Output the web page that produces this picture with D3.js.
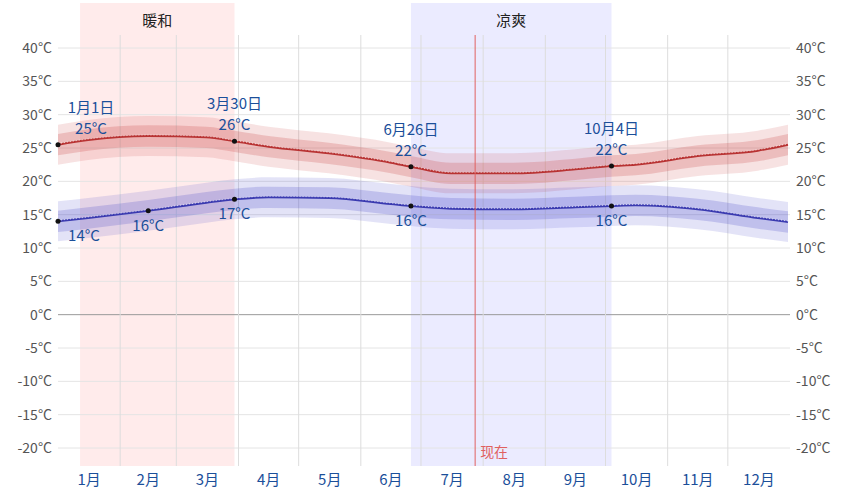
<!DOCTYPE html>
<html><head><meta charset="utf-8">
<script src="https://cdn.jsdelivr.net/npm/d3@7"></script>
<style>body{margin:0;background:#fff}text{font-family:"Noto Sans CJK SC","Noto Sans",sans-serif}</style>
</head><body><svg id="chart" width="858" height="500"></svg>
<script>
"use strict";
const days = [0, 15, 45, 74, 88, 105, 135, 166, 176, 196, 227, 258, 276, 288, 319, 349, 364];
const highs = [25.5, 26.2, 26.8, 26.6, 26, 25.2, 24.2, 22.8, 22.2, 21.2, 21.2, 21.8, 22.3, 22.5, 23.8, 24.6, 25.5];
const lows = [14, 14.5, 15.6, 16.8, 17.3, 17.6, 17.5, 16.6, 16.3, 15.9, 15.8, 16.1, 16.3, 16.4, 15.8, 14.5, 13.9];
const monthStarts = [0, 31, 59, 90, 120, 151, 181, 212, 243, 273, 304, 334, 365];
const monthLabels = ["1月","2月","3月","4月","5月","6月","7月","8月","9月","10月","11月","12月"];
const yTicks = [40,35,30,25,20,15,10,5,0,-5,-10,-15,-20];
const seasons = [{name:"暖和", from:11, to:88, color:"rgba(255,90,90,0.12)"},
                 {name:"凉爽", from:176, to:276, color:"rgba(90,90,255,0.12)"}];
const nowDay = 208;
const highNotes = [{d:0, date:"1月1日", t:"25°C"}, {d:88, date:"3月30日", t:"26°C"}, {d:176, date:"6月26日", t:"22°C"}, {d:276, date:"10月4日", t:"22°C"}];
const lowNotes = [{d:0, t:"14°C"}, {d:45, t:"16°C"}, {d:88, t:"17°C"}, {d:176, t:"16°C"}, {d:276, t:"16°C"}];

(function () {
const svg = d3.select("#chart");
const x = d3.scaleLinear().domain([0, 365]).range([58, 790]);
const y = d3.scaleLinear().domain([-20, 40]).range([448, 48]);
const bandTop = 3, bandBottom = 466;

seasons.forEach(s => {
  svg.append("rect").attr("x", x(s.from)).attr("y", bandTop).attr("width", x(s.to) - x(s.from))
    .attr("height", bandBottom - bandTop).attr("fill", s.color);
  svg.append("text").attr("x", (x(s.from) + x(s.to)) / 2).attr("y", 26).attr("text-anchor", "middle")
    .attr("font-size", 15).attr("fill", "#222").text(s.name);
});

yTicks.forEach(t => {
  svg.append("line").attr("x1", 58).attr("x2", 790).attr("y1", y(t)).attr("y2", y(t))
    .attr("stroke", t === 0 ? "#999" : "#e4e4e4");
  svg.append("text").attr("x", 52).attr("y", y(t) + 5).attr("text-anchor", "end").attr("font-size", 14).attr("fill", "#555").text(t + "°C");
  svg.append("text").attr("x", 796).attr("y", y(t) + 5).attr("font-size", 14).attr("fill", "#555").text(t + "°C");
});
monthStarts.slice(1, 12).forEach(d => {
  svg.append("line").attr("x1", x(d)).attr("x2", x(d)).attr("y1", 35).attr("y2", bandBottom).attr("stroke", "#ddd");
});
monthLabels.forEach((m, i) => {
  svg.append("text").attr("x", x((monthStarts[i] + monthStarts[i + 1]) / 2)).attr("y", 485)
    .attr("text-anchor", "middle").attr("font-size", 15).attr("fill", "#1b4f9a").text(m);
});

const curve = d3.curveMonotoneX;
function series(vals, rgb, dark) {
  [3, 1.6].forEach((w, i) => {
    svg.append("path").attr("fill", `rgba(${rgb},${i ? 0.22 : 0.15})`)
      .attr("d", d3.area().curve(curve).x(d => x(d)).y0((d, j) => y(vals[j] - w)).y1((d, j) => y(vals[j] + w))(days));
  });
  svg.append("path").attr("fill", "none").attr("stroke", dark).attr("stroke-width", 2)
    .attr("d", d3.line().curve(curve).x(d => x(d)).y((d, j) => y(vals[j]))(days));
  svg.append("path").attr("fill", "none").attr("stroke", "#fff").attr("stroke-width", 0.7).attr("stroke-dasharray", "1,2")
    .attr("d", d3.line().curve(curve).x(d => x(d)).y((d, j) => y(vals[j]) - 1)(days));
}
series(highs, "200,60,60", "#b83232");
series(lows, "70,70,200", "#3a3ab0");

svg.append("line").attr("x1", x(nowDay)).attr("x2", x(nowDay)).attr("y1", 35).attr("y2", bandBottom).attr("stroke", "#e06060");
svg.append("text").attr("x", x(nowDay) + 5).attr("y", 457).attr("font-size", 14).attr("fill", "#e06060").text("现在");

const valAt = (arr, d) => arr[days.indexOf(d)];
highNotes.forEach(n => {
  const px = x(n.d), py = y(valAt(highs, n.d)), tx = n.d === 0 ? px + 33 : px;
  svg.append("circle").attr("cx", px).attr("cy", py).attr("r", 2.5).attr("fill", "#111");
  svg.append("text").attr("x", tx).attr("y", py - 32).attr("text-anchor", "middle").attr("font-size", 15).attr("fill", "#1b4f9a").text(n.date);
  svg.append("text").attr("x", tx).attr("y", py - 11).attr("text-anchor", "middle").attr("font-size", 15).attr("fill", "#1b4f9a").text(n.t);
});
lowNotes.forEach(n => {
  const px = x(n.d), py = y(valAt(lows, n.d)), tx = n.d === 0 ? px + 26 : px;
  svg.append("circle").attr("cx", px).attr("cy", py).attr("r", 2.5).attr("fill", "#111");
  svg.append("text").attr("x", tx).attr("y", py + 20).attr("text-anchor", "middle").attr("font-size", 15).attr("fill", "#1b4f9a").text(n.t);
});
})();
</script></body></html>
